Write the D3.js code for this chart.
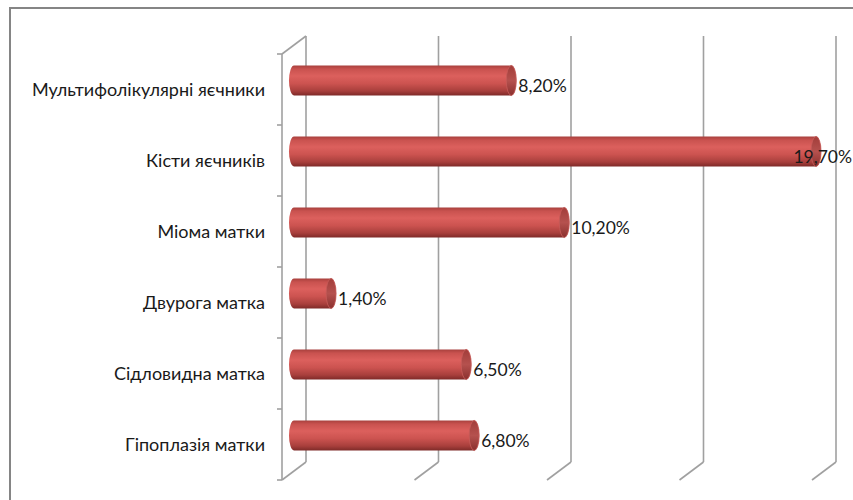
<!DOCTYPE html>
<html><head><meta charset="utf-8">
<script src="https://cdn.jsdelivr.net/npm/d3@7"></script>
<style>body{margin:0;background:#fff}svg{display:block}</style>
</head><body>
<svg id="c" width="853" height="500"></svg>
<script>
const categories = ["Мультифолікулярні яєчники","Кісти яєчників","Міома матки","Двурога матка","Сідловидна матка","Гіпоплазія матки"];
const values = [0.082, 0.197, 0.102, 0.014, 0.065, 0.068];
const valueLabels = ["8,20%","19,70%","10,20%","1,40%","6,50%","6,80%"];
const ticks = [0, 0.05, 0.10, 0.15, 0.20];

const svg = d3.select("#c");
const W = 853, H = 500;
const frontX0 = 282, depthX = 24, depthY = 18;
const x = d3.scaleLinear().domain([0, 0.2]).range([0, 530]);
const y = d3.scaleBand().domain(categories).range([54, 480]);
const FONT = "Lato, 'Open Sans', sans-serif";

// frame
svg.append("rect").attr("x",10).attr("y",8).attr("width",900).attr("height",600)
  .attr("fill","none").attr("stroke","#858585").attr("stroke-width",2);

const defs = svg.append("defs");
const g1 = defs.append("linearGradient").attr("id","body").attr("x1",0).attr("y1",0).attr("x2",0).attr("y2",1);
[[0,"#a8403d"],[0.12,"#c9524f"],[0.35,"#dc605d"],[0.6,"#cc5350"],[0.85,"#a83f3c"],[1,"#7e2a28"]]
  .forEach(s=>g1.append("stop").attr("offset",s[0]).attr("stop-color",s[1]));
const g2 = defs.append("linearGradient").attr("id","cap").attr("x1",0).attr("y1",0).attr("x2",0).attr("y2",1);
[[0,"#a23d3a"],[0.5,"#b5514e"],[1,"#8a302e"]]
  .forEach(s=>g2.append("stop").attr("offset",s[0]).attr("stop-color",s[1]));

const grid = svg.append("g").attr("stroke","#a0a0a0").attr("stroke-width",1.6).attr("fill","none");
const backTop = 54 - depthY, backBot = 480 - depthY;
ticks.forEach(t=>{
  const bx = frontX0 + depthX + x(t);
  grid.append("line").attr("x1",bx).attr("x2",bx).attr("y1",backTop).attr("y2",backBot);
  grid.append("line").attr("x1",bx).attr("y1",backBot).attr("x2",bx-depthX).attr("y2",480);
});
grid.append("line").attr("x1",frontX0).attr("y1",54).attr("x2",frontX0+depthX).attr("y2",backTop);
grid.append("line").attr("x1",frontX0).attr("x2",frontX0).attr("y1",54).attr("y2",480);
const bounds = categories.map(c=>y(c)).concat([480]);
bounds.forEach(b=>grid.append("line").attr("x1",frontX0-5).attr("x2",frontX0).attr("y1",b).attr("y2",b));

// category labels
svg.append("g").selectAll("text").data(categories).join("text")
  .attr("x",265).attr("y",d=>y(d)+y.bandwidth()/2).attr("dy","0.35em")
  .attr("text-anchor","end").attr("font-family",FONT).attr("font-size",18)
  .attr("fill","#1a1a1a").text(d=>d);

// bars
const midX0 = frontX0 + depthX/2, midDy = -depthY/2;
const rx = 5, bh = 30;
const bars = svg.append("g");
categories.forEach((c,i)=>{
  const cy = y(c) + y.bandwidth()/2 + midDy;
  const x0 = midX0, x1 = midX0 + x(values[i]);
  const path = `M${x0},${cy-bh/2} L${x1},${cy-bh/2} A${rx},${bh/2} 0 0 1 ${x1},${cy+bh/2} L${x0},${cy+bh/2} A${rx},${bh/2} 0 0 1 ${x0},${cy-bh/2} Z`;
  bars.append("path").attr("d",path).attr("fill","url(#body)");
  bars.append("ellipse").attr("cx",x1).attr("cy",cy).attr("rx",rx).attr("ry",bh/2)
    .attr("fill","url(#cap)").attr("stroke","#c65c59").attr("stroke-width",0.8);
});

// value labels
const vl = svg.append("g");
categories.forEach((c,i)=>{
  const cy = y(c) + y.bandwidth()/2 + midDy;
  const t = vl.append("text").attr("y",cy+5).attr("dy","0.35em")
    .attr("font-family",FONT).attr("font-size",17.5).attr("fill","#1a1a1a").text(valueLabels[i]);
  const w = t.node().getComputedTextLength();
  const xe = midX0 + x(values[i]) + rx + 2;
  t.attr("x", Math.min(xe, W - w - 1));
});
</script>
</body></html>
